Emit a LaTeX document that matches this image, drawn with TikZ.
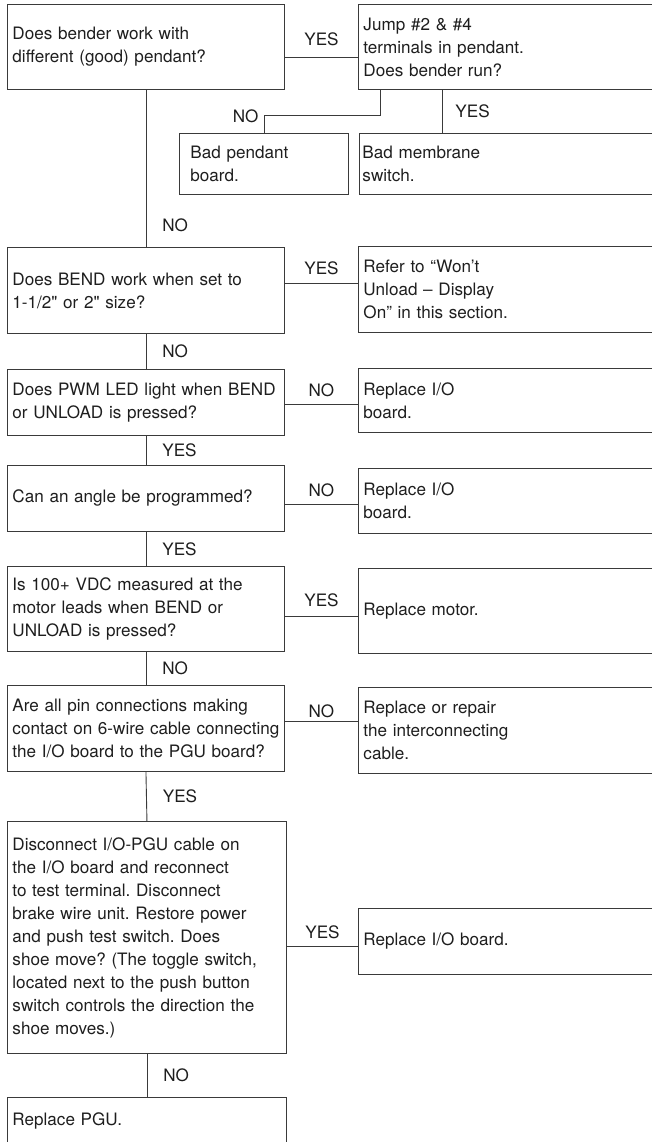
\documentclass[tikz,border=0pt]{standalone}
\usepackage{fontspec}
\setmainfont{TeX Gyre Heros}[Ligatures=TeXOff]
\usepackage{xcolor}
\usetikzlibrary{positioning}
\definecolor{chartline}{HTML}{3A3A3A}
\definecolor{charttext}{HTML}{1E1E1E}
\newcommand{\chartfont}{\fontsize{17.1}{23}\selectfont\frenchspacing}
\tikzset{
  question/.style={rectangle,draw=chartline,line width=0.9pt,anchor=north west,align=left,inner xsep=5pt,inner ysep=0pt,text width=267pt,minimum width=277pt,font=\chartfont,text=charttext},
  action/.style={question,text width=292pt,minimum width=302pt},
  link/.style={draw=chartline,line width=0.9pt},
  ans/.style={font=\chartfont,text=charttext,inner sep=1pt}
}

\begin{document}
\begin{tikzpicture}[x=1pt,y=-1pt]
\clip (0,0) rectangle (652,1142);
% left column: questions
\node[question,minimum height=85pt] (q1) at (7,4) {Does bender work with\\different (good) pendant?};
\node[question,minimum height=86pt] (q2) at (7,247) {Does BEND work when set to\\1-1/2" or 2" size?};
\node[question,minimum height=66pt] (q3) at (7,369) {Does PWM LED light when BEND\\or UNLOAD is pressed?};
\node[question,minimum height=66pt] (q4) at (7,465) {Can an angle be programmed?};
\node[question,minimum height=85pt] (q5) at (7,566) {Is 100+ VDC measured at the\\motor leads when BEND or\\UNLOAD is pressed?};
\node[question,minimum height=86pt] (q6) at (7,685) {Are all pin connections making\\\mbox{contact on 6-wire cable connecting}\\the I/O board to the PGU board?};
\node[question,text width=269pt,minimum width=279pt,minimum height=232pt] (q7) at (7,821) {Disconnect I/O-PGU cable on\\the I/O board and reconnect\\to test terminal. Disconnect\\brake wire unit. Restore power\\and push test switch. Does\\shoe move? (The toggle switch,\\located next to the push button\\switch controls the direction the\\shoe moves.)};
\node[question,text width=269pt,minimum width=279pt,minimum height=48pt] (pgu) at (7,1097) {Replace PGU.};
% right column: actions
\node[action,minimum height=85pt] (jump) at (358,4) {Jump \#2 \& \#4\\terminals in pendant.\\Does bender run?};
\node[action,inner xsep=11pt,text width=147pt,minimum width=169pt,minimum height=61pt] (badpend) at (179,133) {Bad pendant\\board.};
\node[action,inner xsep=3pt,text width=295pt,minimum width=301pt,minimum height=61pt] (badmemb) at (359,133) {Bad membrane\\switch.};
\node[action,minimum height=86pt] (refer) at (358,246) {Refer to “Won’t\\Unload – Display\\On” in this section.};
\node[action,minimum height=64pt] (replio) at (358,368) {Replace I/O\\board.};
\node[action,minimum height=65pt] (replio2) at (358,468) {Replace I/O\\board.};
\node[action,minimum height=85pt] (motor) at (358,568) {Replace motor.};
\node[action,minimum height=86pt] (cable) at (358,687) {Replace or repair\\the interconnecting\\cable.};
\node[action,minimum height=66pt] (replio3) at (358,908) {Replace I/O board.};
% main trunk
\draw[link] (q1.south) -- node[ans,right=15pt,pos=0.86]{NO} (q2.north);
\draw[link] (q2.south) -- node[ans,right=15pt]{NO} (q3.north);
\draw[link] (q3.south) -- node[ans,right=15pt]{YES} (q4.north);
\draw[link] (q4.south) -- node[ans,right=15pt]{YES} (q5.north);
\draw[link] (q5.south) -- node[ans,right=15pt]{NO} (q6.north);
\draw[link] (q6.south) -- node[ans,right=15pt]{YES} (q7.north);
\draw[link] (q7.south) -- node[ans,right=15pt]{NO} (pgu.north);
% side branches
\draw[link] ([yshift=-10.5pt]q1.east) -- node[ans,above=10pt]{YES} ([yshift=-10.5pt]jump.west);
\draw[link] ([xshift=22pt]jump.south west) -- ++(0,-26pt) -| node[ans,left=4pt,pos=0.5]{NO} (badpend.north);
\draw[link] ([xshift=84pt]jump.south west) -- node[ans,right=12pt]{YES} ([xshift=83pt]badmemb.north west);
\draw[link] ([yshift=7pt]q2.east) -- node[ans,above=7pt]{YES} ([yshift=6pt]refer.west);
\draw[link] ([yshift=-2pt]q3.east) -- node[ans,above=6pt]{NO} ([yshift=-4pt]replio.west);
\draw[link] ([yshift=-6pt]q4.east) -- node[ans,above=6pt]{NO} ([yshift=-3.5pt]replio2.west);
\draw[link] ([yshift=-7.5pt]q5.east) -- node[ans,above=8pt]{YES} ([yshift=-5.5pt]motor.west);
\draw[link] ([yshift=7pt]q6.east) -- node[ans,above=2pt]{NO} ([yshift=9pt]cable.west);
\draw[link] ([yshift=-9pt]q7.east) -- node[ans,above=6pt]{YES} ([yshift=-5pt]replio3.west);
\end{tikzpicture}
\end{document}
